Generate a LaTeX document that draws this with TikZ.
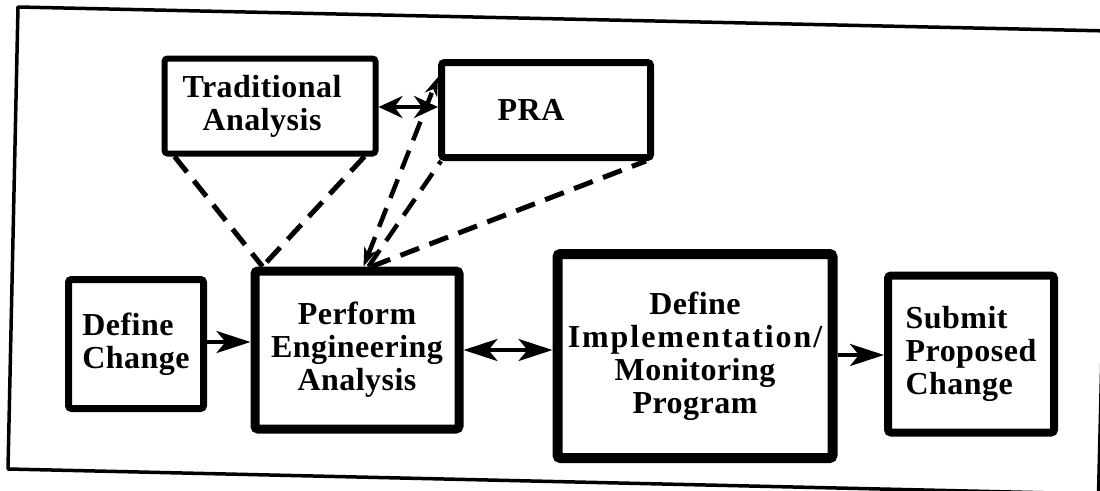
\documentclass[tikz,border=0pt]{standalone}
\usepackage{fontspec}
\setmainfont{Liberation Serif}[LetterSpace=1.5]
\newfontfamily\widefont{Liberation Serif}[LetterSpace=6]
\usetikzlibrary{arrows.meta,calc}

\tikzset{
  stepbox/.style={draw, fill=white, rounded corners=3pt, inner sep=0pt,
    align=center, font=\bfseries\fontsize{32}{33}\selectfont},
  solidarrow/.style={line width=4pt},
  bighead/.tip={Stealth[length=34pt,width=22pt,inset=9pt]},
  midhead/.tip={Stealth[length=24pt,width=22pt,inset=8pt]},
  smallhead/.tip={Stealth[length=19pt,width=13pt,inset=6pt]},
  dashlink/.style={line width=5pt, dash pattern=on 20pt off 11pt},
}

\begin{document}
\begin{tikzpicture}[x=1pt,y=-1pt]
\useasboundingbox (0,0) rectangle (1100,490);

% outer frame (slightly skewed)
\draw[line width=3.5pt, line join=round] (18,7) -- (1110,31) -- (1098.5,494) -- (8,469) -- cycle;

% process boxes
\node[stepbox, line width=6pt, minimum width=211pt, minimum height=95pt] (trad) at (270,106) {\hspace*{-16pt}Traditional\\\hspace*{-16pt}Analysis};
\node[stepbox, line width=7pt, minimum width=209pt, minimum height=95pt] (pra) at (546,110) {\hspace*{-30pt}PRA};
\node[stepbox, line width=7pt, minimum width=135pt, minimum height=129pt, align=left] (defc) at (136,344) {Define\\Change};
\node[stepbox, line width=9pt, minimum width=204pt, minimum height=158pt] (perf) at (357,350) {Perform\\Engineering\\Analysis};
\node[stepbox, line width=10pt, minimum width=275pt, minimum height=204pt] (impl) at (695,356) {Define\\{\widefont Implementation/}\\Monitoring\\Program};
\node[stepbox, line width=8pt, minimum width=166pt, minimum height=157pt, align=left] (subm) at (971,354) {Submit\\Proposed\\Change};

% solid flow arrows
\draw[solidarrow, -bighead] (defc.east |- 0,342) coordinate (a1) -- (perf.west |- a1);
\draw[solidarrow, bighead-bighead] (perf.east |- 0,350) coordinate (a2) -- (impl.west |- a2);
\draw[solidarrow, -bighead] (impl.east |- 0,355) coordinate (a3) -- (subm.west |- a3);
\draw[solidarrow, midhead-midhead] (trad.east |- 0,107) coordinate (a4) -- (pra.west |- a4);

% dashed links between the analyses
\draw[dashlink] ([xshift=13pt]trad.south west) -- ([xshift=12pt]perf.north west);
\draw[dashlink] ([xshift=-14pt]trad.south east) -- ([xshift=12pt]perf.north west);
\draw[dashlink, line width=4.5pt, smallhead-smallhead] ([xshift=113pt]perf.north west) -- ([yshift=-18pt]pra.north west);
\draw[dashlink, line width=4.5pt] ([xshift=118pt]perf.north west) -- ([xshift=3pt]pra.south west);
\draw[dashlink] ([xshift=121pt]perf.north west) -- ([xshift=-8pt]pra.south east);
\end{tikzpicture}
\end{document}
